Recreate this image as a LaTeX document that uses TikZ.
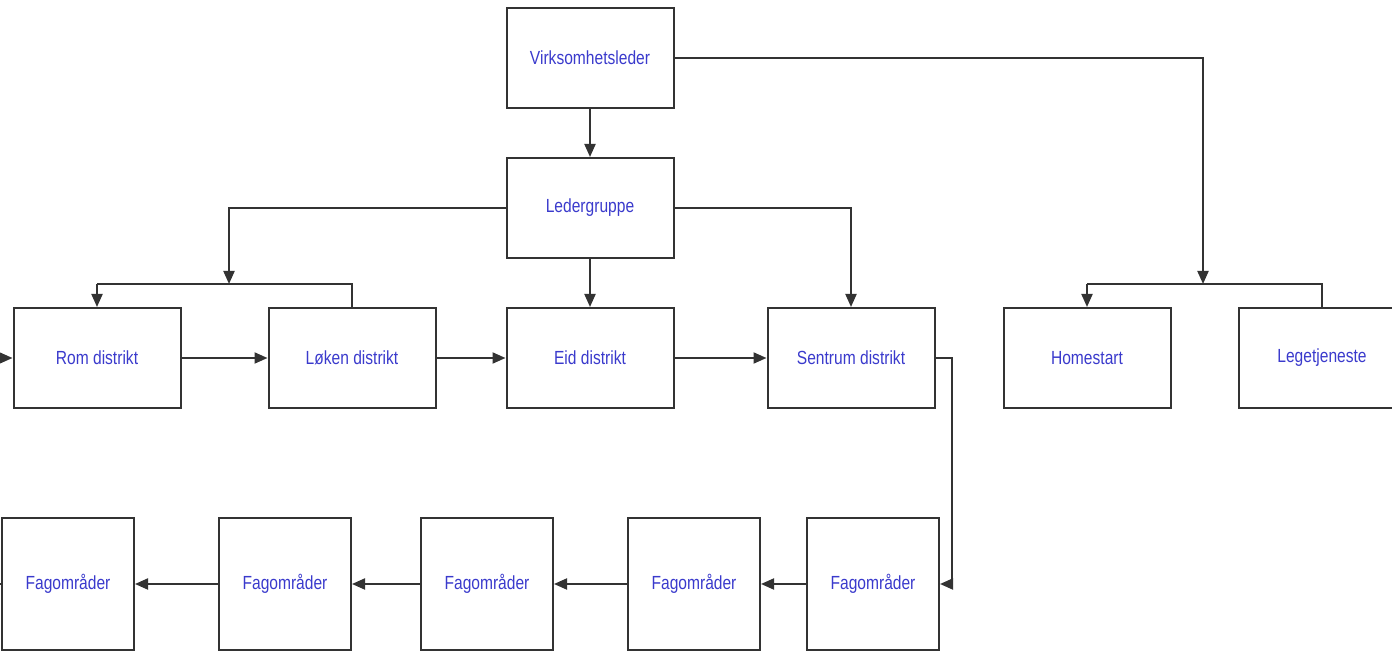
\documentclass[tikz,border=0pt]{standalone}
\usepackage{fontspec}
\setmainfont{Liberation Sans}[FakeStretch=0.82]
\usepackage{xcolor}
\usetikzlibrary{arrows.meta}
\definecolor{boxtext}{HTML}{3A3ACC}
\definecolor{lineclr}{HTML}{333333}

\begin{document}
\begin{tikzpicture}[x=0.5pt,y=-0.5pt,line width=1pt,draw=lineclr,
    font=\fontsize{9.5}{11}\selectfont,
    arr/.style={-{Triangle[length=6.5pt,width=5.5pt]},draw=lineclr},
    plain/.style={draw=lineclr},
    unit/.style={rectangle,draw=lineclr,minimum width=83.5pt,minimum height=50pt,
        text=boxtext,text centered},
    area/.style={rectangle,draw=lineclr,minimum width=66pt,minimum height=66pt,
        text=boxtext,text centered}]

    \useasboundingbox (0,0) rectangle (1392,651);

    % top
    \node[unit] (VL) at (590,58) {Virksomhetsleder};
    \node[unit] (LG) at (590,208) {Ledergruppe};

    % districts
    \node[unit] (Rom) at (97,358) {Rom distrikt};
    \node[unit] (Loken) at (352,358) {Løken distrikt};
    \node[unit] (Eid) at (590,358) {Eid distrikt};
    \node[unit] (Sentrum) at (851,358) {Sentrum distrikt};

    \node[unit] (Home) at (1087,358) {Homestart};
    \node[unit] (Lege) at (1322,358) {Legetjeneste};

    % fagomrader
    \node[area] (F1) at (68,584) {Fagområder};
    \node[area] (F2) at (285,584) {Fagområder};
    \node[area] (F3) at (487,584) {Fagområder};
    \node[area] (F4) at (694,584) {Fagområder};
    \node[area] (F5) at (873,584) {Fagområder};

    \coordinate (inRom) at (0,358);
    \coordinate (outF1) at (0,584);
    \coordinate (jL) at (229,284);
    \coordinate (jR) at (1203,284);

    \draw[arr] (VL) -- (LG);
    \draw[arr] (VL.east) -| (jR);
    \draw[plain] (Home.north |- jR) -- (Lege.north |- jR) -- (Lege.north);
    \draw[arr] (Home.north |- jR) -- (Home.north);

    \draw[arr] (LG.west) -| (jL);
    \draw[plain] (Rom.north |- jL) -- (Loken.north |- jL) -- (Loken.north);
    \draw[arr] (Rom.north |- jL) -- (Rom.north);
    \draw[arr] (LG) -- (Eid);
    \draw[arr] (LG.east) -| (Sentrum.north);

    \draw[arr] (inRom) -- (Rom.west);
    \draw[arr] (Rom) -- (Loken);
    \draw[arr] (Loken) -- (Eid);
    \draw[arr] (Eid) -- (Sentrum);

    \draw[arr] (Sentrum.east) -- ++(16,0) |- (F5.east);
    \draw[arr] (F5) -- (F4);
    \draw[arr] (F4) -- (F3);
    \draw[arr] (F3) -- (F2);
    \draw[arr] (F2) -- (F1);
    \draw[plain] (F1.west) -- (outF1);
\end{tikzpicture}
\end{document}
